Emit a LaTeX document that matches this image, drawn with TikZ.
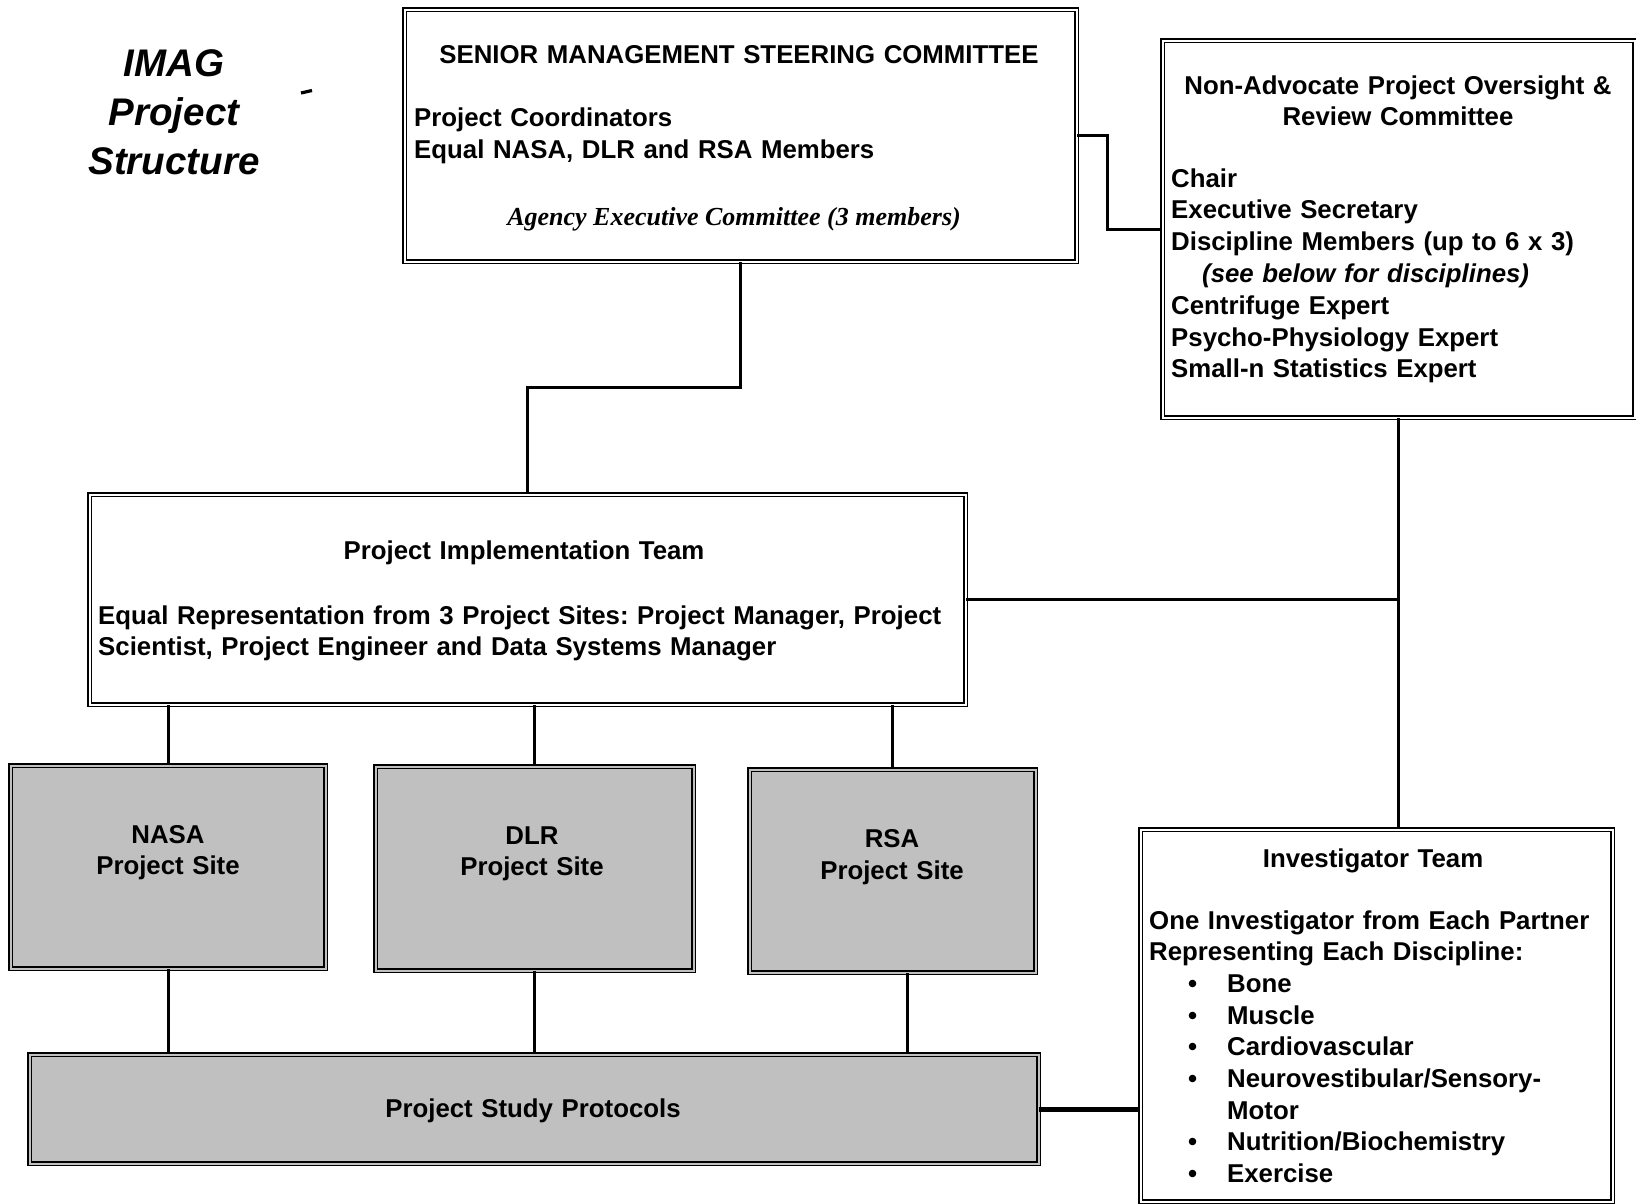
\documentclass[tikz,border=0pt]{standalone}
\usepackage{fontspec}
\setmainfont{Liberation Sans}
\newfontfamily\timesfont{Liberation Serif}
\definecolor{boxgray}{HTML}{C0C0C0}
\frenchspacing
\begin{document}
\begin{tikzpicture}[x=1pt,y=1pt,
  box/.style={draw=black, line width=1.4pt, double=white, double distance=2.2pt,
    inner sep=0pt, anchor=north west, rectangle},
  graybox/.style={box, fill=boxgray, double=boxgray},
  conn/.style={line width=3.4pt},
  txt/.style={inner sep=0pt, font=\bfseries\fontsize{25.8}{31.7}\selectfont},
  ctxt/.style={txt, anchor=base, align=center, text width=#1},
  ltxt/.style={txt, anchor=base west, align=left, text width=#1}
]
\useasboundingbox (0,0) rectangle (1636,-1204);

% title
\node[inner sep=0pt, anchor=base, align=center, text width=300pt,
  font=\bfseries\itshape\fontsize{38.5}{49}\selectfont] (title) at (174,-77) {IMAG\\Project\\Structure};
\coordinate (dashA) at (301,-93);
\coordinate (dashB) at (312,-90.5);
\draw[line width=3.2pt] (dashA) -- (dashB);

% boxes
\node[box, minimum width=672pt, minimum height=252pt] (senior) at (404,-9) {};
\node[box, minimum width=472pt, minimum height=377pt] (nonadv) at (1162,-40) {};
\node[box, minimum width=876pt, minimum height=210pt] (pit) at (89,-494) {};
\node[graybox, minimum width=315pt, minimum height=203pt] (nasa) at (10,-765) {};
\node[graybox, minimum width=318pt, minimum height=204pt] (dlr) at (375,-766) {};
\node[graybox, minimum width=286pt, minimum height=203pt] (rsa) at (749,-769) {};
\node[graybox, minimum width=1009pt, minimum height=109pt] (proto) at (29,-1054) {};
\node[box, minimum width=472pt, minimum height=372pt] (inv) at (1140,-829) {};

% senior text
\node[ctxt=660pt] (tsenior) at (739,-64) {SENIOR MANAGEMENT STEERING COMMITTEE};
\node[ltxt=640pt] (tcoord) at (414,-127) {Project Coordinators\\Equal NASA, DLR and RSA Members};
\node[inner sep=0pt, anchor=base, font=\timesfont\bfseries\itshape\fontsize{26}{31}\selectfont] (tagency) at (734,-225) {Agency Executive Committee (3 members)};

% non-advocate text
\node[ctxt=470pt, font=\bfseries\fontsize{25.8}{31}\selectfont] (tnon) at (1398,-95) {Non-Advocate Project Oversight \&\\Review Committee};
\node[ltxt=460pt, font=\bfseries\fontsize{25.8}{31.8}\selectfont] (tnonlist) at (1171,-187) {Chair\\Executive Secretary\\Discipline Members (up to 6 x 3)\\\hspace*{31pt}\textit{(see below for disciplines)}\\Centrifuge Expert\\Psycho-Physiology Expert\\Small-n Statistics Expert};

% PIT text
\node[ctxt=860pt] (tpit) at (524,-559) {Project Implementation Team};
\node[ltxt=900pt, font=\bfseries\fontsize{25.8}{31}\selectfont] (tpitd) at (98,-624) {Equal Representation from 3 Project Sites: Project Manager, Project\\Scientist, Project Engineer and Data Systems Manager};

% sites
\node[ctxt=300pt, font=\bfseries\fontsize{25.8}{31}\selectfont] (tnasa) at (168,-843) {NASA\\Project Site};
\node[ctxt=300pt, font=\bfseries\fontsize{25.8}{31}\selectfont] (tdlr) at (532,-844) {DLR\\Project Site};
\node[ctxt=280pt, font=\bfseries\fontsize{25.8}{32}\selectfont] (trsa) at (892,-847) {RSA\\Project Site};
\node[ctxt=600pt] (tproto) at (533,-1117) {Project Study Protocols};

% investigator text
\node[ctxt=460pt] (tinvt) at (1373,-867) {Investigator Team};
\node[ltxt=470pt] (tinv) at (1149,-929) {One Investigator from Each Partner\\Representing Each Discipline:\\%
\hspace*{39pt}\makebox[39pt][l]{•}Bone\\%
\hspace*{39pt}\makebox[39pt][l]{•}Muscle\\%
\hspace*{39pt}\makebox[39pt][l]{•}Cardiovascular\\%
\hspace*{39pt}\makebox[39pt][l]{•}Neurovestibular/Sensory-\\%
\hspace*{78pt}Motor\\%
\hspace*{39pt}\makebox[39pt][l]{•}Nutrition/Biochemistry\\%
\hspace*{39pt}\makebox[39pt][l]{•}Exercise};

% connectors
\draw[conn] (senior.east) -- ++(30,0) |- (nonadv.west);
\draw[conn] (senior.south) -- ++(0,-125) -| (pit.north);
\draw[conn] (pit.east) -- (pit.east -| nonadv.south);
\draw[conn] (nonadv.south) -- (nonadv.south |- inv.north);
\draw[conn] (pit.south -| nasa.north) -- (nasa.north);
\draw[conn] (pit.south -| dlr.north) -- (dlr.north);
\draw[conn] (pit.south -| rsa.north) -- (rsa.north);
\draw[conn] (nasa.south) -- (nasa.south |- proto.north);
\draw[conn] (dlr.south) -- (dlr.south |- proto.north);
\draw[conn] ([xshift=15pt]rsa.south) -- ([xshift=15pt]rsa.south |- proto.north);
\draw[line width=5pt] (proto.east) -- (proto.east -| inv.west);
\end{tikzpicture}
\end{document}
